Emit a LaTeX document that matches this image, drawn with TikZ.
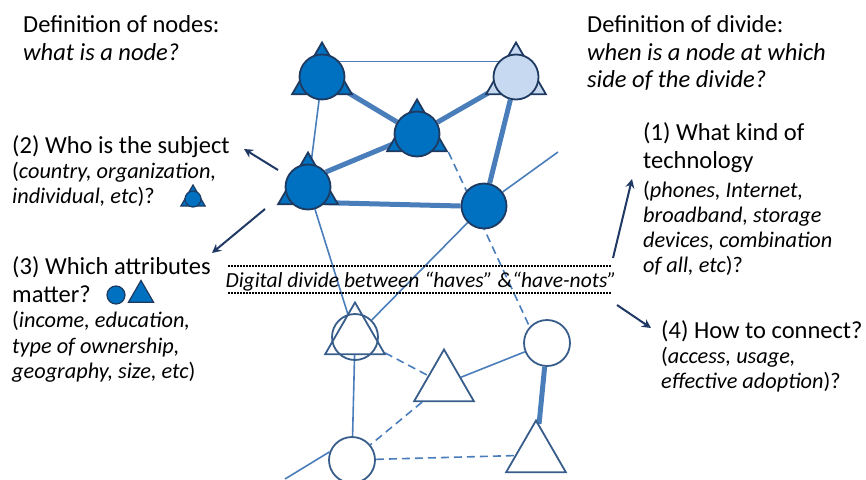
\documentclass[tikz,border=0pt]{standalone}
\usepackage{fontspec}
\setmainfont{Carlito}
\usetikzlibrary{shapes.geometric,arrows.meta,backgrounds}
\definecolor{nfill}{HTML}{0070C0}
\definecolor{lfill}{HTML}{C6D9F1}
\definecolor{nline}{HTML}{1F3A60}
\definecolor{lline}{HTML}{385D8A}
\definecolor{edgec}{HTML}{4A7EBB}
\definecolor{arrc}{HTML}{1F3864}
\begin{document}
\begin{tikzpicture}[x=1pt,y=-1pt,
  circ/.style={circle,inner sep=0pt,minimum size=45pt,draw=nline,line width=1.8pt,fill=nfill},
  tri/.style={regular polygon,regular polygon sides=3,inner sep=0pt,minimum size=69pt,draw=nline,line width=1.8pt,fill=nfill},
  ocirc/.style={circle,inner sep=0pt,minimum size=46pt,draw=lline,line width=1.8pt},
  otri/.style={regular polygon,regular polygon sides=3,inner sep=0pt,minimum size=69pt,draw=lline,line width=1.8pt},
  thinedge/.style={draw=edgec,line width=1.6pt},
  thickedge/.style={draw=edgec,line width=5pt},
  dashedge/.style={draw=edgec,line width=1.6pt,dash pattern=on 8pt off 5pt},
  dotline/.style={draw=black,line width=1.6pt,dash pattern=on 1.5pt off 1.5pt},
  arr/.style={draw=arrc,line width=2pt,-{Stealth[length=9pt,width=9pt]}},
  big/.style={font=\fontsize{24.5}{29}\selectfont,anchor=base west,inner sep=0pt},
  bigit/.style={font=\fontsize{24.5}{29}\selectfont\itshape,anchor=base west,inner sep=0pt},
  small/.style={font=\fontsize{22.3}{26}\selectfont,anchor=base west,inner sep=0pt},
]
\useasboundingbox (0,0) rectangle (866,479);
% upper nodes
\node[tri] (At) at (322,77) {};
\node[circ] (A) at (322,77) {};
\node[tri,fill=lfill] (Bt) at (516,77) {};
\node[circ,fill=lfill] (B) at (516,77) {};
\node[tri] (Ct) at (417,134) {};
\node[circ] (C) at (417,134) {};
\node[tri] (Dt) at (308,187) {};
\node[circ] (D) at (308,187) {};
\node[circ] (E) at (484,206) {};
% lower nodes
\node[otri] (Gt) at (355,337) {};
\node[ocirc] (G) at (355,337) {};
\node[otri] (H) at (444,384) {};
\node[ocirc] (F) at (547,343) {};
\node[ocirc] (I) at (352,460) {};
\node[otri] (J) at (536,455) {};
\coordinate (Eo) at (558,152);
\coordinate (Io) at (285,479);
% edges
\begin{pgfonlayer}{background}
\draw[thinedge] (A.42) -- (B.138);
\draw[thickedge] (A) -- (C);
\draw[thickedge] (B) -- (C);
\draw[thickedge] (C) -- (D.40);
\draw[thickedge] (D.-42) -- (E.west);
\draw[thickedge] (B) -- (E);
\draw[thinedge] (A) -- (D);
\draw[dashedge] (Ct.corner 3) -- (F.137);
\draw[thinedge] (E.37) -- (Eo);
\draw[thinedge] (E) -- (G);
\draw[thinedge] (D) -- (G);
\draw[dashedge] (Gt) -- (H);
\draw[thinedge] (H) -- (F);
\draw[thickedge] (F) -- (J);
\draw[thinedge] (Gt) -- (I);
\draw[dashedge] (H) -- (I);
\draw[dashedge] (I) -- (J);
\draw[thinedge] (I.160) -- (Io);
\end{pgfonlayer}
% divide
\coordinate (d1) at (228,266);
\coordinate (d2) at (612,266);
\coordinate (d3) at (228,293);
\coordinate (d4) at (612,293);
\draw[dotline] (d1) -- (d2);
\draw[dotline] (d3) -- (d4);
\node[font=\fontsize{21.5}{25}\selectfont\itshape,anchor=base,inner sep=0pt] (dv) at (421,287) {Digital divide between “haves” \&“have-nots”};
% left texts
\node[big] (t1) at (23,32) {Definition of nodes:};
\node[bigit] (t2) at (23,60) {what is a node?};
\node[big] (t3) at (12,153) {(2) Who is the subject};
\node[small] (t4) at (12,178) {(\textit{country, organization,}};
\node[small] (t5) at (12,203) {\textit{individual, etc})?};
\node[big] (t6) at (12,274) {(3) Which attributes};
\node[big] (t7) at (12,302) {matter?};
\node[small] (t8) at (12,327) {(\textit{income, education,}};
\node[small] (t9) at (12,353) {\textit{type of ownership,}};
\node[small] (t10) at (12,378) {\textit{geography, size, etc})};
% icons
\node[regular polygon,regular polygon sides=3,inner sep=0pt,minimum size=28pt,draw=nline,line width=1.2pt,fill=nfill] (ic1t) at (193,199) {};
\node[circle,inner sep=0pt,minimum size=16pt,draw=nline,line width=1.2pt,fill=nfill] (ic1c) at (193,199) {};
\node[circle,inner sep=0pt,minimum size=18pt,draw=nline,line width=1.2pt,fill=nfill] (ic2) at (116,295) {};
\node[regular polygon,regular polygon sides=3,inner sep=0pt,minimum size=29pt,draw=nline,line width=1.2pt,fill=nfill] (ic3) at (141,295) {};
% right texts
\node[big] (r1) at (587,32) {Definition of divide:};
\node[bigit] (r2) at (587,60) {when is a node at which};
\node[bigit] (r3) at (587,87) {side of the divide?};
\node[big] (r4) at (643,140) {(1) What kind of};
\node[big] (r5) at (643,168) {technology};
\node[small] (r6) at (643,197) {(\textit{phones, Internet,}};
\node[small] (r7) at (643,222) {\textit{broadband, storage}};
\node[small] (r8) at (643,247) {\textit{devices, combination}};
\node[small] (r9) at (643,272) {\textit{of all, etc})?};
\node[big] (r10) at (661,338) {(4) How to connect?};
\node[small] (r11) at (661,363) {(\textit{access, usage,}};
\node[small] (r12) at (661,388) {\textit{effective adoption})?};
% arrows
\coordinate (a1s) at (278,170);
\coordinate (a1e) at (244,149);
\coordinate (a2s) at (265,209);
\coordinate (a2e) at (212,253);
\coordinate (a3s) at (613,258);
\coordinate (a3e) at (632,179);
\coordinate (a4s) at (617,305);
\coordinate (a4e) at (651,328);
\draw[arr] (a1s) -- (a1e);
\draw[arr] (a2s) -- (a2e);
\draw[arr] (a3s) -- (a3e);
\draw[arr] (a4s) -- (a4e);
\end{tikzpicture}
\end{document}
